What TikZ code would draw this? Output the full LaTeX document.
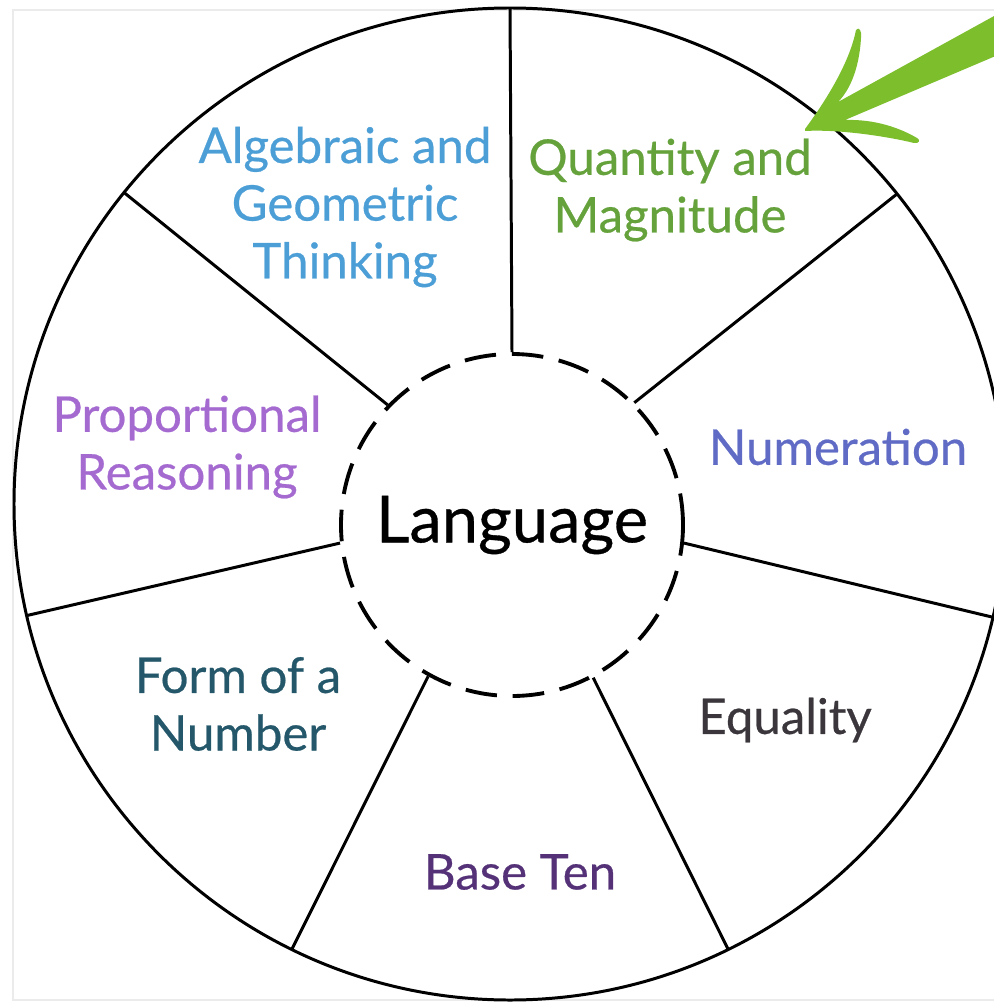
\documentclass[tikz,border=0pt]{standalone}
\usepackage{fontspec}
\setmainfont{Lato}[FakeBold=0.5,BoldFont=Lato]
\usepackage{xcolor}
\usetikzlibrary{calc}

\definecolor{algblue}{HTML}{4C9ED6}
\definecolor{qtygreen}{HTML}{65A23C}
\definecolor{numblue}{HTML}{5F6BC4}
\definecolor{eqgray}{HTML}{3A363B}
\definecolor{basepurple}{HTML}{553278}
\definecolor{formteal}{HTML}{235769}
\definecolor{proplilac}{HTML}{A46AD0}
\definecolor{arrowgreen}{HTML}{7DBE2D}

\begin{document}
\begin{tikzpicture}[
  lbl/.style={font=\fontsize{14}{16.4}\selectfont,align=center,inner sep=0pt},
  spoke/.style={black,line width=0.85pt}]
\useasboundingbox (0,0) rectangle (9.93,-10.02);
% ---- faint frame and outer wheel
\draw[black!8,line width=0.6pt] (0.13,-0.10) rectangle (10.2,-10.0);
\coordinate (octr) at (5.10,-5.04);
\draw[spoke] (octr) circle (4.96);
% ---- hub
\node[draw,circle,dashed,dash pattern=on 9pt off 4.5pt,line width=1.1pt,
      minimum size=3.42cm,inner sep=0pt,font=\fontsize{18.5}{20}\selectfont]
      (lang) at (5.12,-5.25) {Language};
% ---- spokes: hub angle / rim angle
\foreach \i/\a/\b in {1/90/90, 2/45/38.7, 3/-6.8/-13.2, 4/-62.4/-63.9,
                      5/-119.8/-116.1, 6/186.2/193, 7/136.6/141.1} {
  \coordinate (o\i) at ($(octr)+(\b:4.96)$);
  \draw[spoke] (lang.\a) -- (o\i);
}
% ---- sector labels
\node[lbl,text=algblue] (alg) at (3.45,-2.07) {Algebraic and\\Geometric\\Thinking};
\node[lbl,text=qtygreen] (qty) at (6.70,-1.90) {Quantity and\\Magnitude};
\node[lbl,text=numblue] (num) at (8.38,-4.47) {Numeration};
\node[lbl,text=eqgray] (eq) at (7.85,-7.20) {Equality};
\node[lbl,text=basepurple] (base) at (5.20,-8.72) {Base Ten};
\node[lbl,text=formteal] (form) at (2.38,-7.04) {Form of a\\Number};
\node[lbl,text=proplilac] (prop) at (1.87,-4.47) {Proportional\\Reasoning};
% ---- brush arrow pointing at the green sector
\fill[arrowgreen] (8.05,-1.29)
  .. controls (8.30,-0.95) and (8.50,-0.60) .. (8.56,-0.30)
  .. controls (8.59,-0.26) and (8.62,-0.31) .. (8.61,-0.38)
  .. controls (8.59,-0.72) and (8.48,-0.92) .. (8.38,-1.02)
  -- (10.05,-0.10) -- (10.05,-0.52) -- (8.45,-1.20)
  .. controls (8.75,-1.19) and (9.00,-1.28) .. (9.17,-1.38)
  .. controls (9.21,-1.40) and (9.19,-1.44) .. (9.14,-1.43)
  .. controls (8.90,-1.37) and (8.40,-1.29) .. (8.05,-1.31) -- cycle;
\end{tikzpicture}
\end{document}
